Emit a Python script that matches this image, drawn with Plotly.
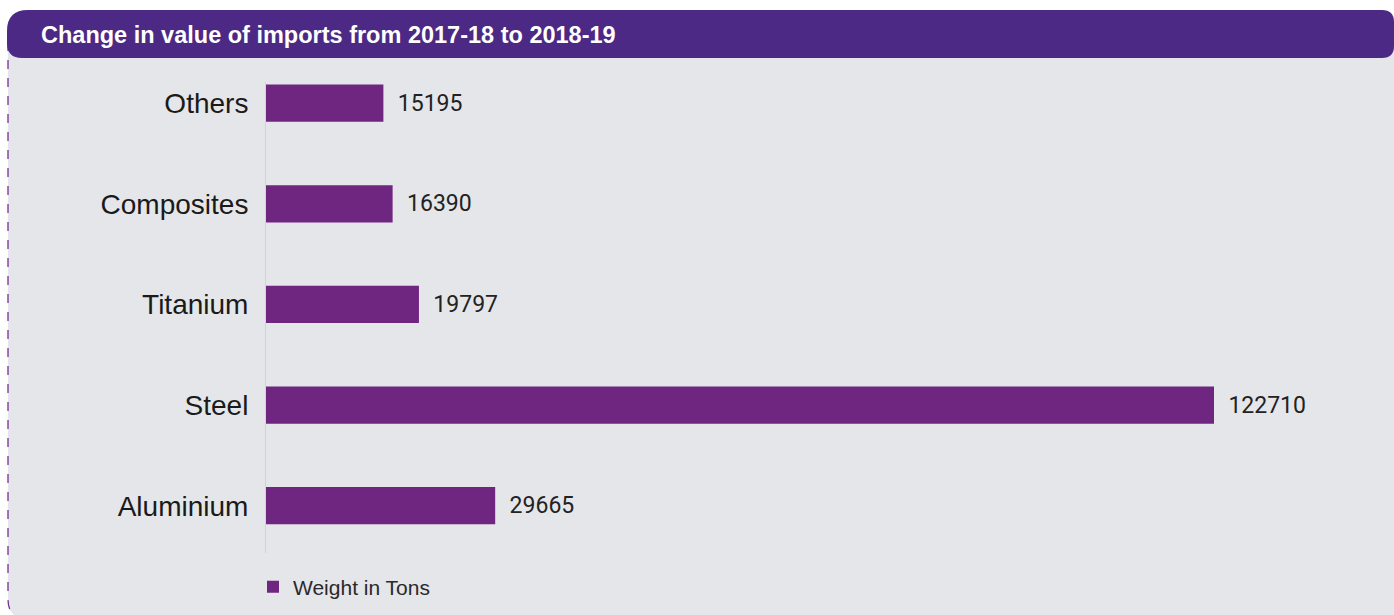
import plotly.graph_objects as go

categories = ["Aluminium", "Steel", "Titanium", "Composites", "Others"]
weights = [29665, 122710, 19797, 16390, 15195]
series_name = "Weight in Tons"
title_text = "Change in value of imports from 2017-18 to 2018-19"

W, H = 1394, 615
BAR = "#6F2681"
HEAD = "#4B2985"
BG = "#E5E6E9"


def P(x, y):
    return f"{x / W:.5f},{1 - y / H:.5f}"


fig = go.Figure()
fig.add_trace(go.Bar(
    y=categories, x=weights, orientation="h", name=series_name,
    marker=dict(color=BAR, line=dict(width=0)), width=0.37,
    text=weights, texttemplate="\u00a0\u00a0%{text}", textposition="outside",
    cliponaxis=False,
    textfont=dict(family="Roboto, Liberation Sans, sans-serif", size=23, color="#222222"),
    showlegend=True,
))

panel = ("M " + P(8, 40) + " L " + P(1394, 40) + " L " + P(1394, 619) +
         " L " + P(28, 619) + " Q " + P(8, 619) + " " + P(8, 599) + " Z")
panel_border = ("M " + P(8, 42) + " L " + P(8, 599) + " Q " + P(8, 619) + " " + P(28, 619))
header = ("M " + P(28, 10) + " L " + P(1382, 10) + " Q " + P(1394, 10) + " " + P(1394, 22) +
          " L " + P(1394, 46) + " Q " + P(1394, 58) + " " + P(1382, 58) +
          " L " + P(22, 58) + " Q " + P(7, 58) + " " + P(7, 43) +
          " L " + P(7, 31) + " Q " + P(7, 10) + " " + P(28, 10) + " Z")

fig.update_layout(
    width=W, height=H,
    margin=dict(l=0, r=0, t=0, b=0),
    paper_bgcolor="white", plot_bgcolor="rgba(0,0,0,0)",
    shapes=[
        dict(type="path", xref="paper", yref="paper", path=panel, fillcolor=BG,
             line=dict(width=0), layer="below"),
        dict(type="path", xref="paper", yref="paper", path=panel_border,
             line=dict(color="#7A2E93", width=1.3, dash="dash"), layer="below"),
        dict(type="path", xref="paper", yref="paper", path=header, fillcolor=HEAD,
             line=dict(width=0), layer="below"),
    ],
    annotations=[dict(
        text=title_text, xref="paper", yref="paper", x=39 / W, y=1 - 35 / H,
        xanchor="left", yanchor="middle", showarrow=False,
        font=dict(family="Liberation Sans, Arial, sans-serif",
                  size=23.5, color="white", weight="bold"),
    )],
    xaxis=dict(domain=[266 / W, 1300 / W], range=[0, 133842], visible=False, fixedrange=True),
    yaxis=dict(domain=[62 / H, 1 - 82 / H], range=[-0.47, 4.21],
               showline=True, linecolor="#D3D3D6", linewidth=1,
               ticks="outside", ticklen=11, tickcolor="rgba(0,0,0,0)",
               showgrid=False, zeroline=False,
               tickfont=dict(family="Liberation Sans, Arial, sans-serif", size=28, color="#1a1a1a")),
    legend=dict(x=253 / W, y=1 - 587 / H, xanchor="left", yanchor="middle",
                bgcolor="rgba(0,0,0,0)", orientation="h",
                font=dict(family="Liberation Sans, Arial, sans-serif", size=21, color="#2a2a2a")),
    bargap=0.63,
)

fig.write_html("out.html", post_script="document.body.style.margin='0';document.body.style.overflow='hidden';",
               config={"displayModeBar": False})
